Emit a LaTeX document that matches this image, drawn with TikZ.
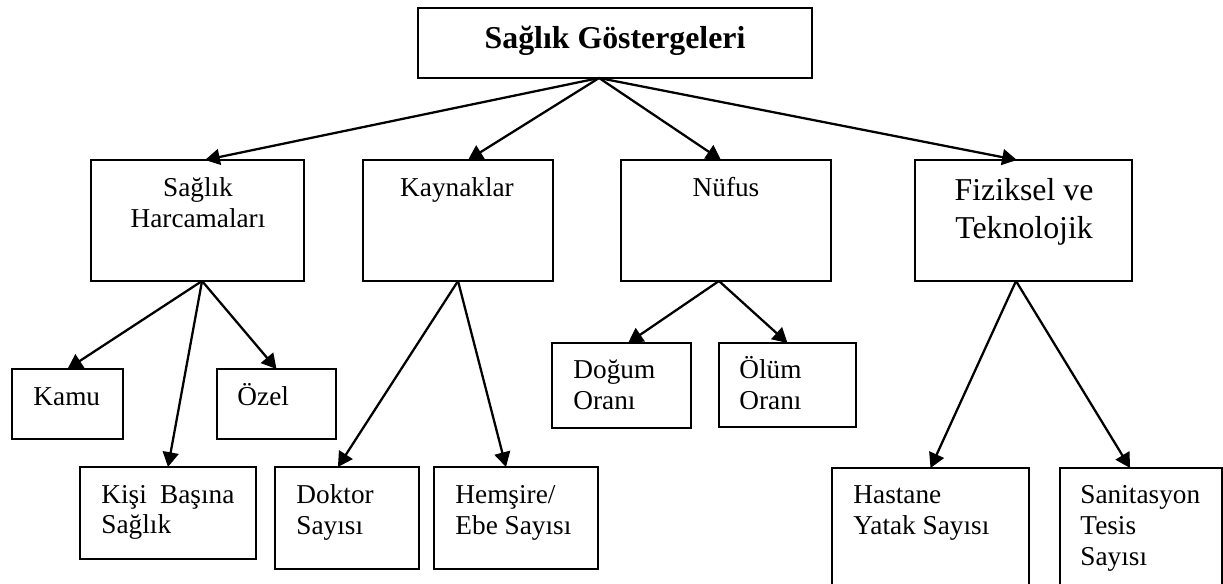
\documentclass[tikz,border=0pt]{standalone}
\usepackage{fontspec}
\setmainfont{Liberation Serif}
\usepackage{tikz}
\usetikzlibrary{arrows.meta}

\begin{document}
\begin{tikzpicture}[
 x=0.44pt,y=-0.44pt,
 box/.style 2 args={draw,line width=0.9pt,inner sep=0pt,outer sep=0pt,minimum width=#1*0.44pt,minimum height=#2*0.44pt},
 txt/.style={inner sep=0pt,font=\fontsize{12}{13.6}\selectfont,align=left},
 arrow/.style={-{Triangle[length=6.5pt,width=7pt]},line width=1pt}
]
\useasboundingbox (0,0) rectangle (1223,584);
\clip (0,0) rectangle (1223,584);
% boxes
\node[box={394}{70}] (top) at (615,43) {};
\node[box={213}{121}] (harc) at (197.5,220.5) {};
\node[box={190}{121}] (kayn) at (458,220.5) {};
\node[box={210}{121}] (nufus) at (726,220.5) {};
\node[box={217}{121}] (fiz) at (1023.5,220.5) {};
\node[box={111}{70}] (kamu) at (67.5,404) {};
\node[box={119}{70}] (ozel) at (276.5,404) {};
\node[box={176}{92}] (kisi) at (168,513) {};
\node[box={144}{102}] (doktor) at (347,518) {};
\node[box={164}{102}] (hemsire) at (516,518) {};
\node[box={139}{85}] (dogum) at (621.5,385.5) {};
\node[box={137}{84}] (olum) at (787.5,385) {};
\node[box={197}{132}] (hastane) at (930.5,534) {};
\node[box={162}{132}] (sanit) at (1141,534) {};
% texts (base = last line)
\node[txt,anchor=base,font=\fontsize{14}{16}\selectfont\bfseries] (top-t) at (615,49) {Sağlık Göstergeleri};
\node[txt,anchor=base,align=center] (harc-t) at (198,227) {Sağlık\\Harcamaları};
\node[txt,anchor=base] (kayn-t) at (457,196) {Kaynaklar};
\node[txt,anchor=base] (nufus-t) at (726,196) {Nüfus};
\node[txt,anchor=base,align=center,font=\fontsize{14}{16.7}\selectfont] (fiz-t) at (1024,238) {Fiziksel ve\\Teknolojik};
\node[txt,anchor=base west] (kamu-t) at (33,405) {Kamu};
\node[txt,anchor=base west] (ozel-t) at (237,405) {Özel};
\node[txt,anchor=base west,text width=58.5pt] (kisi-t) at (101,503) {Kişi\hfill Başına\\Sağlık};
\node[txt,anchor=base west] (doktor-t) at (296,534) {Doktor\\Sayısı};
\node[txt,anchor=base west] (hemsire-t) at (455,534) {Hemşire/\\Ebe Sayısı};
\node[txt,anchor=base west] (dogum-t) at (573,409) {Doğum\\Oranı};
\node[txt,anchor=base west] (olum-t) at (739,409) {Ölüm\\Oranı};
\node[txt,anchor=base west] (hastane-t) at (853,534) {Hastane\\Yatak Sayısı};
\node[txt,anchor=base west] (sanit-t) at (1080,565) {Sanitasyon\\Tesis\\Sayısı};
% connectors
\draw[arrow] ([xshift=-7pt]top.south) -- ([xshift=3.3pt]harc.north);
\draw[arrow] ([xshift=-7pt]top.south) -- ([xshift=4.4pt]kayn.north);
\draw[arrow] ([xshift=-7pt]top.south) -- ([xshift=-2.2pt]nufus.north);
\draw[arrow] ([xshift=-7pt]top.south) -- ([xshift=-2.9pt]fiz.north);
\draw[arrow] ([xshift=2pt]harc.south) -- (kamu.north);
\draw[arrow] ([xshift=2pt]harc.south) -- (ozel.north);
\draw[arrow] ([xshift=2pt]harc.south) -- (kisi.north);
\draw[arrow] (kayn.south) -- ([xshift=-4pt]doktor.north);
\draw[arrow] (kayn.south) -- ([xshift=-4.4pt]hemsire.north);
\draw[arrow] ([xshift=-3.1pt]nufus.south) -- ([xshift=2.9pt]dogum.north);
\draw[arrow] ([xshift=-3.1pt]nufus.south) -- (olum.north);
\draw[arrow] ([xshift=-3.3pt]fiz.south) -- (hastane.north);
\draw[arrow] ([xshift=-3.3pt]fiz.south) -- ([xshift=-4.8pt]sanit.north);
\end{tikzpicture}
\end{document}
